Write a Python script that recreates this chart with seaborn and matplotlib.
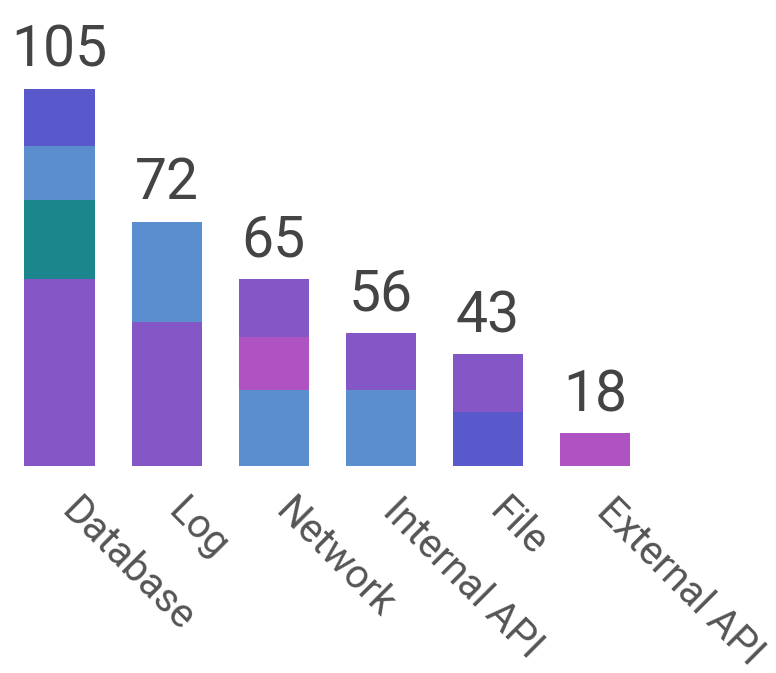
import numpy as np
import pandas as pd
import seaborn as sns
import matplotlib.pyplot as plt

# 数据
categories = ['Database', 'Log', 'Network', 'Internal API', 'File', 'External API']
totals = [105, 72, 65, 56, 43, 18]  # 柱顶标注

# 每一层（自下而上）的数值与颜色
layer1 = [52, 40, 21, 21, 15, 9]
layer2 = [22, 28, 15, 16, 16, 0]
layer3 = [15, 0, 16, 0, 0, 0]
layer4 = [16, 0, 0, 0, 0, 0]

purple, teal, lblue, blue, magenta = '#8456C6', '#1B878D', '#5A8ECF', '#5959CC', '#AE53C1'
colors1 = [purple, purple, lblue, lblue, blue, magenta]
colors2 = [teal, lblue, magenta, purple, purple, purple]
colors3 = [lblue, lblue, purple, purple, purple, purple]
colors4 = [blue, blue, blue, blue, blue, blue]

layers = [layer1, layer2, layer3, layer4]
layer_colors = [colors1, colors2, colors3, colors4]

sns.set_style('white')
plt.rcParams['font.family'] = ['Roboto', 'DejaVu Sans']

fig = plt.figure(figsize=(7.76, 6.73), dpi=100)
base_px = 465.7
ax = fig.add_axes([6.0 / 776, 1 - base_px / 673, 642.4 / 776, base_px / 673])

cum = np.cumsum(np.array(layers), axis=0)

# 从最上层开始画累计高度，下层覆盖上层
for k in range(len(layers) - 1, -1, -1):
    vals = np.array(layers[k])
    mask = vals > 0
    df = pd.DataFrame({'cat': np.array(categories)[mask], 'y': cum[k][mask]})
    pal = {c: col for c, col, m in zip(categories, layer_colors[k], mask) if m}
    sns.barplot(data=df, x='cat', y='y', hue='cat', palette=pal, order=categories,
                hue_order=list(pal.keys()), width=0.655, saturation=1, legend=False, ax=ax,
                linewidth=0, dodge=False)

heights = cum[-1]
for i, (h, t) in enumerate(zip(heights, totals)):
    ax.annotate(str(t), (i, h), xytext=(0, 16), textcoords='offset points',
                ha='center', va='baseline', fontsize=41, color='#444444')

ax.set_xlim(-0.5, 5.5)
ax.set_ylim(0, base_px / 3.588)
ax.set_xlabel('')
ax.set_ylabel('')
ax.set_yticks([])
ax.set_xticks(range(len(categories)))
ax.set_xticklabels(categories, rotation=-45, rotation_mode='anchor', ha='left', va='baseline',
                   fontsize=29, color='#555555')
ax.tick_params(axis='x', length=0, pad=34)
for s in ax.spines.values():
    s.set_visible(False)

fig.savefig('out.png', dpi=100)
